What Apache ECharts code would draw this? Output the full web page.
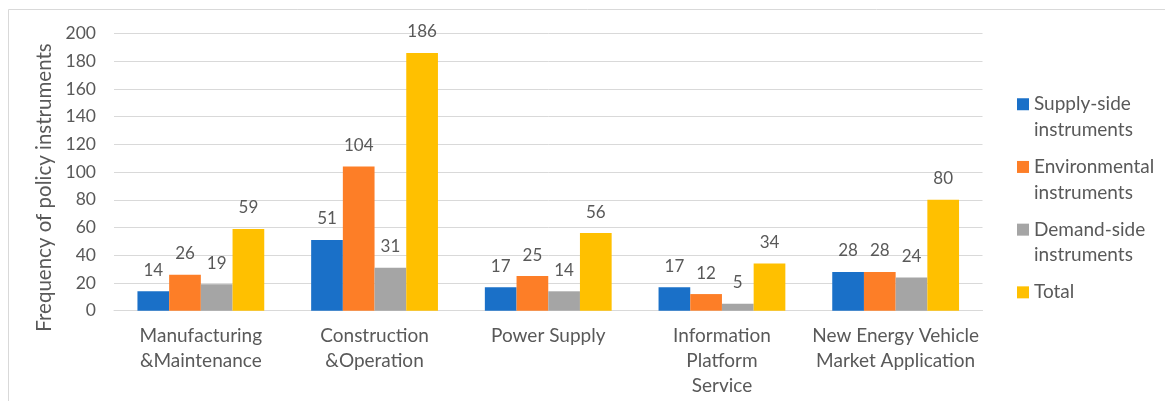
<!DOCTYPE html>
<html>
<head>
<meta charset="utf-8">
<style>
  html, body { margin: 0; padding: 0; background: #ffffff; }
  #chart { width: 1165px; height: 401px; }
</style>
<script src="https://cdn.jsdelivr.net/npm/echarts@6/dist/echarts.min.js"></script>
</head>
<body>
<div id="chart"></div>
<script>
// Application fields (x-axis categories)
const categories = [
  'Manufacturing\n&Maintenance',
  'Construction\n&Operation',
  'Power Supply',
  'Information\nPlatform\nService',
  'New Energy Vehicle\nMarket Application'
];

// Frequency of each instrument type per field
const supplySide    = [14, 51, 17, 17, 28];
const environmental = [26, 104, 25, 12, 28];
const demandSide    = [19, 31, 14, 5, 24];
const total         = [59, 186, 56, 34, 80];

const seriesNames = [
  'Supply-side instruments',
  'Environmental instruments',
  'Demand-side instruments',
  'Total'
];
const legendLabels = {
  'Supply-side instruments': 'Supply-side\ninstruments',
  'Environmental instruments': 'Environmental\ninstruments',
  'Demand-side instruments': 'Demand-side\ninstruments',
  'Total': 'Total\n'
};

// y-axis scale
const yMin = 0, yMax = 200, yStep = 20;
const yTitle = 'Frequency of policy instruments';

const colors = ['#1a70c8', '#fd7e27', '#a5a5a5', '#ffc000'];
const textColor = '#595959';
const gridColor = '#d9d9d9';
const font = 'Lato, "Open Sans", sans-serif';

const chart = echarts.init(document.getElementById('chart'), null, { renderer: 'canvas' });

function barSeries(name, data, color) {
  return {
    name: name,
    type: 'bar',
    data: data,
    barGap: '0%',
    barCategoryGap: '27%',
    itemStyle: { color: color },
    label: {
      show: true,
      position: 'top',
      distance: 11,
      color: textColor,
      fontFamily: font,
      fontSize: 17,
      lineHeight: 20
    },
    emphasis: { disabled: true }
  };
}

chart.setOption({
  backgroundColor: '#ffffff',
  animation: false,
  textStyle: { fontFamily: font },
  color: colors,
  grid: { left: 114, right: 182.5, top: 33.5, bottom: 90.3, containLabel: false },
  graphic: [
    {
      type: 'rect',
      shape: { x: 8.5, y: 9.5, width: 1300, height: 600 },
      style: { fill: 'none', stroke: gridColor, lineWidth: 1 },
      silent: true,
      z: -10
    },
    {
      type: 'text',
      x: 44,
      y: 187.5,
      rotation: Math.PI / 2,
      style: {
        text: yTitle,
        fill: textColor,
        font: '20.5px ' + font,
        textAlign: 'center',
        textVerticalAlign: 'middle'
      },
      silent: true
    }
  ],
  legend: {
    orient: 'vertical',
    left: 1017,
    top: 66,
    padding: 0,
    itemWidth: 12,
    itemHeight: 12,
    itemGap: -13.8,
    icon: 'rect',
    selectedMode: false,
    data: seriesNames,
    formatter: function (name) { return '\n' + legendLabels[name]; },
    textStyle: {
      color: textColor,
      fontFamily: font,
      fontSize: 19,
      lineHeight: 25.5
    }
  },
  xAxis: {
    type: 'category',
    data: categories,
    axisLine: { show: true, lineStyle: { color: gridColor, width: 1 } },
    axisTick: { show: false },
    axisLabel: {
      color: textColor,
      fontFamily: font,
      fontSize: 19,
      lineHeight: 25,
      margin: 13,
      interval: 0
    }
  },
  yAxis: {
    type: 'value',
    min: yMin,
    max: yMax,
    interval: yStep,
    axisLine: { show: false },
    axisTick: { show: false },
    splitLine: { lineStyle: { color: gridColor, width: 1 } },
    axisLabel: {
      color: textColor,
      fontFamily: font,
      fontSize: 17.5,
      margin: 18
    }
  },
  series: [
    barSeries(seriesNames[0], supplySide, colors[0]),
    barSeries(seriesNames[1], environmental, colors[1]),
    barSeries(seriesNames[2], demandSide, colors[2]),
    barSeries(seriesNames[3], total, colors[3])
  ]
});
</script>
</body>
</html>
